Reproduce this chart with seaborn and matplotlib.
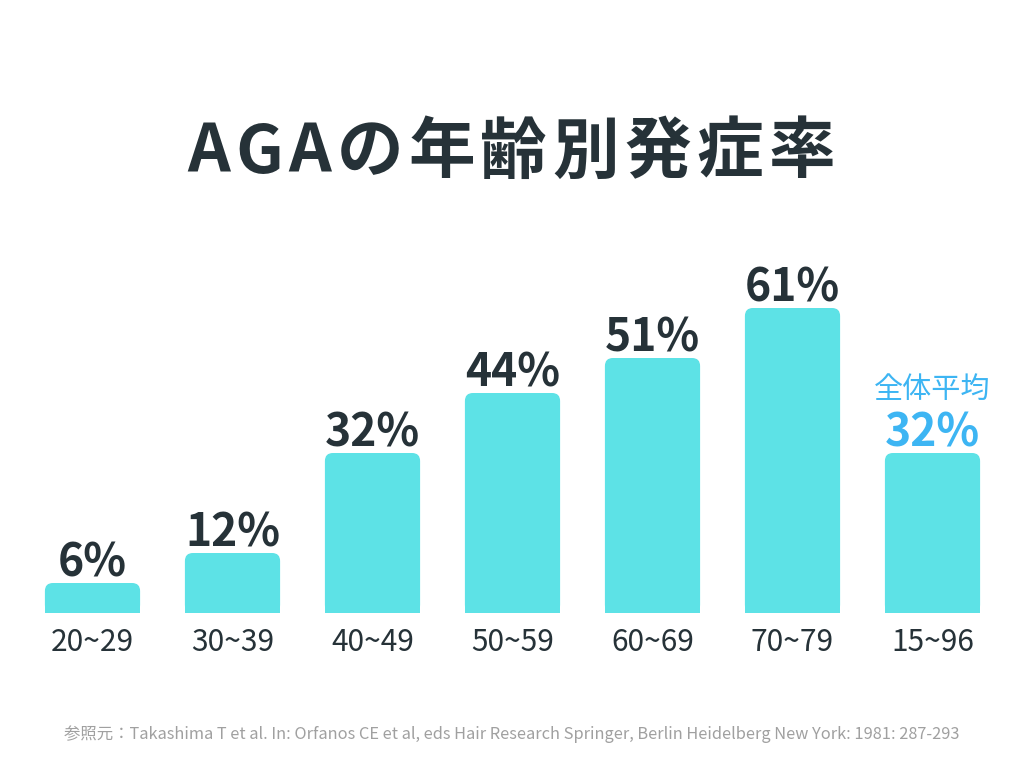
import matplotlib
matplotlib.use('Agg')
import matplotlib.pyplot as plt
import seaborn as sns
import pandas as pd
from matplotlib.patches import FancyBboxPatch

categories = ["20~29", "30~39", "40~49", "50~59", "60~69", "70~79", "15~96"]
values = [6, 12, 32, 44, 51, 61, 32]
value_labels = ["6%", "12%", "32%", "44%", "51%", "61%", "32%"]
title = "AGAの年齢別発症率"
avg_label = "全体平均"
source = ("参照元：Takashima T et al. In: Orfanos CE et al, eds Hair Research Springer, "
          "Berlin Heidelberg New York: 1981: 287-293")

bar_color = "#5DE2E6"
dark = "#263238"
blue = "#3DB5F3"
gray = "#A0A0A0"

sns.set_theme(style="white")
plt.rcParams['font.family'] = ['Noto Sans CJK JP', 'DejaVu Sans']

W, H = 1024, 768
fig = plt.figure(figsize=(W / 100, H / 100), dpi=100)
fig.patch.set_facecolor("white")
ax = fig.add_axes([22.5 / W, 155 / H, 980 / W, 350 / H])

df = pd.DataFrame({"age": categories, "rate": values})
sns.barplot(data=df, x="age", y="rate", color=bar_color, saturation=1,
            width=0.68, ax=ax, errorbar=None)
ax.set_xlim(-0.5, 6.5)
ax.set_ylim(0, 70)

# rounded top corners
px_x = 980 / 7.0
px_y = 350 / 70.0
r = 8
rx, ry = r / px_x, r / px_y
for p in list(ax.patches):
    x0, w, h = p.get_x(), p.get_width(), p.get_height()
    p.set_edgecolor("none")
    p.set_linewidth(0)
    p.set_height(max(h - ry, 0))
    fb = FancyBboxPatch((x0, 0), w, h,
                        boxstyle=f"round,pad=0,rounding_size={rx}",
                        mutation_aspect=ry / rx,
                        facecolor=bar_color, edgecolor="none", linewidth=0)
    ax.add_patch(fb)

for s in ax.spines.values():
    s.set_visible(False)
ax.set_yticks([])
ax.set_xlabel("")
ax.set_ylabel("")
ax.tick_params(axis="x", length=0, pad=10, labelsize=21.5, labelcolor=dark)

n = len(categories)
for i, (v, lab) in enumerate(zip(values, value_labels)):
    col = blue if i == n - 1 else dark
    ax.annotate(lab, (i, v), xytext=(0, 4.5), textcoords="offset points",
                ha="center", va="baseline", fontsize=32, fontweight="bold",
                color=col)
ax.annotate(avg_label, (n - 1, values[-1]), xytext=(0, 40),
            textcoords="offset points", ha="center", va="baseline",
            fontsize=21, color=blue)

# title with letter spacing
renderer = fig.canvas.get_renderer()
texts = [fig.text(0, 1 - 153 / H, ch, fontsize=48, fontweight="bold",
                  color=dark, va="center", ha="left") for ch in title]
widths = [t.get_window_extent(renderer).width for t in texts]
target = 648
gap = (target - sum(widths)) / (len(title) - 1)
x = 511 - target / 2
for t, w in zip(texts, widths):
    t.set_x(x / W)
    x += w + gap

fig.text(512 / W, 1 - 734 / H, source, fontsize=11.8, color=gray,
         ha="center", va="center")

fig.savefig("out.png", dpi=100, facecolor="white")
